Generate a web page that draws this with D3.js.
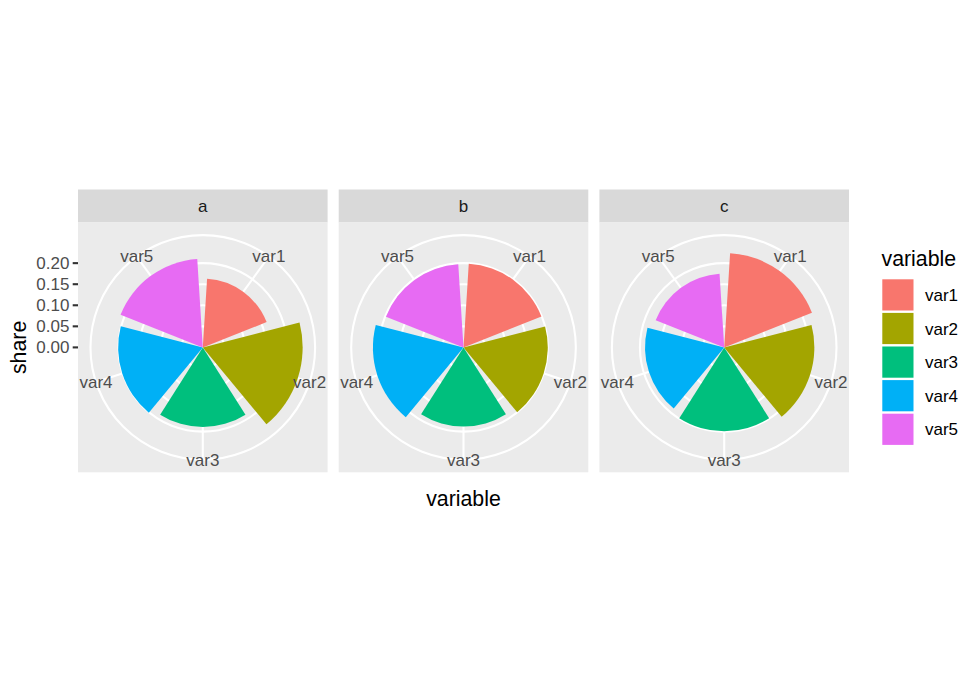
<!DOCTYPE html>
<html>
<head>
<meta charset="utf-8">
<script src="https://cdn.jsdelivr.net/npm/d3@7"></script>
<style>
  html, body { margin: 0; padding: 0; background: #fff; }
  svg { display: block; font-family: "Liberation Sans", Arial, sans-serif; }
</style>
</head>
<body>
<svg id="chart" width="980" height="700"></svg>
<script>
// ---- data ----
const facets = ["a", "b", "c"];
const categories = ["var1", "var2", "var3", "var4", "var5"];
const shareA = [0.163, 0.237, 0.189, 0.201, 0.210];
const shareB = [0.199, 0.200, 0.188, 0.215, 0.198];
const shareC = [0.224, 0.214, 0.199, 0.188, 0.175];
const rTicks = [0.00, 0.05, 0.10, 0.15, 0.20];
const colors = ["#F8766D", "#A3A500", "#00BF7D", "#00B0F6", "#E76BF3"];

const facetValues = [shareA, shareB, shareC];

// ---- layout ----
const svg = d3.select("#chart");
const W = 249.6, H = 249.8;
const panelTop = 222.5, stripH = 33;
const panelX = d3.scalePoint().domain(facets).range([78, 599.4]);

const maxShare = d3.max(facetValues.flat());
const r = d3.scaleLinear().domain([0, maxShare]).range([0, 0.4 * W]);
const theta = d3.scaleBand().domain(categories).range([0, 2 * Math.PI])
  .paddingInner(0.1).paddingOuter(0.05);
const color = d3.scaleOrdinal().domain(categories).range(colors);
const thetaMid = c => theta(c) + theta.bandwidth() / 2;

const arc = d3.arc().innerRadius(0).padAngle(0);

facets.forEach((f, fi) => {
  const x0 = panelX(f);
  const cx = x0 + W / 2, cy = panelTop + H / 2;
  const g = svg.append("g");

  // strip
  g.append("rect").attr("x", x0).attr("y", panelTop - stripH)
    .attr("width", W).attr("height", stripH).attr("fill", "#D9D9D9");
  g.append("text").attr("x", cx).attr("y", panelTop - stripH / 2)
    .attr("dy", "0.35em").attr("text-anchor", "middle")
    .attr("font-size", 17).attr("fill", "#1A1A1A").text(f);

  // panel background
  g.append("rect").attr("x", x0).attr("y", panelTop)
    .attr("width", W).attr("height", H).attr("fill", "#EBEBEB");

  const pg = g.append("g").attr("transform", `translate(${cx},${cy})`);

  // theta grid lines
  categories.forEach(c => {
    const a = thetaMid(c);
    pg.append("line").attr("x1", 0).attr("y1", 0)
      .attr("x2", 0.45 * W * Math.sin(a)).attr("y2", -0.45 * W * Math.cos(a))
      .attr("stroke", "#fff").attr("stroke-width", 2.1);
  });
  // radial grid circles
  rTicks.filter(t => t > 0).map(t => r(t)).concat([0.45 * W]).forEach(rad => {
    pg.append("circle").attr("r", rad).attr("fill", "none")
      .attr("stroke", "#fff").attr("stroke-width", 2.1);
  });

  // bars
  const vals = facetValues[fi];
  categories.forEach((c, i) => {
    pg.append("path")
      .attr("d", arc({ outerRadius: r(vals[i]), startAngle: theta(c), endAngle: theta(c) + theta.bandwidth() }))
      .attr("fill", color(c));
  });

  // theta labels
  categories.forEach(c => {
    const a = thetaMid(c);
    pg.append("text")
      .attr("x", 0.45 * W * Math.sin(a)).attr("y", -0.45 * W * Math.cos(a))
      .attr("dy", "0.35em").attr("text-anchor", "middle")
      .attr("font-size", 17).attr("fill", "#4D4D4D").text(c);
  });

  // radial axis on first facet
  if (fi === 0) {
    const ax = svg.append("g");
    rTicks.forEach(t => {
      const y = cy - r(t);
      ax.append("line").attr("x1", x0 - 5.3).attr("x2", x0).attr("y1", y).attr("y2", y)
        .attr("stroke", "#333333").attr("stroke-width", 2.1);
      ax.append("text").attr("x", x0 - 8.6).attr("y", y).attr("dy", "0.35em")
        .attr("text-anchor", "end").attr("font-size", 17).attr("fill", "#4D4D4D")
        .text(d3.format(".2f")(t));
    });
  }
});

// axis titles
const panelsLeft = panelX(facets[0]), panelsRight = panelX(facets[facets.length - 1]) + W;
svg.append("text").attr("x", (panelsLeft + panelsRight) / 2).attr("y", 505.5)
  .attr("text-anchor", "middle").attr("font-size", 21.3).attr("fill", "#000").text("variable");
svg.append("text").attr("transform", `translate(26,${panelTop + H / 2}) rotate(-90)`)
  .attr("text-anchor", "middle").attr("font-size", 21.3).attr("fill", "#000").text("share");

// legend
const lg = svg.append("g");
lg.append("text").attr("x", 881.5).attr("y", 266).attr("font-size", 21.3).attr("fill", "#000").text("variable");
categories.forEach((c, i) => {
  const y = 279.3 + i * 33.6;
  lg.append("rect").attr("x", 882.3).attr("y", y).attr("width", 31.2).attr("height", 31.2)
    .attr("fill", color(c));
  lg.append("text").attr("x", 925).attr("y", y + 15.6).attr("dy", "0.36em")
    .attr("font-size", 17).attr("fill", "#000").text(c);
});
</script>
</body>
</html>
